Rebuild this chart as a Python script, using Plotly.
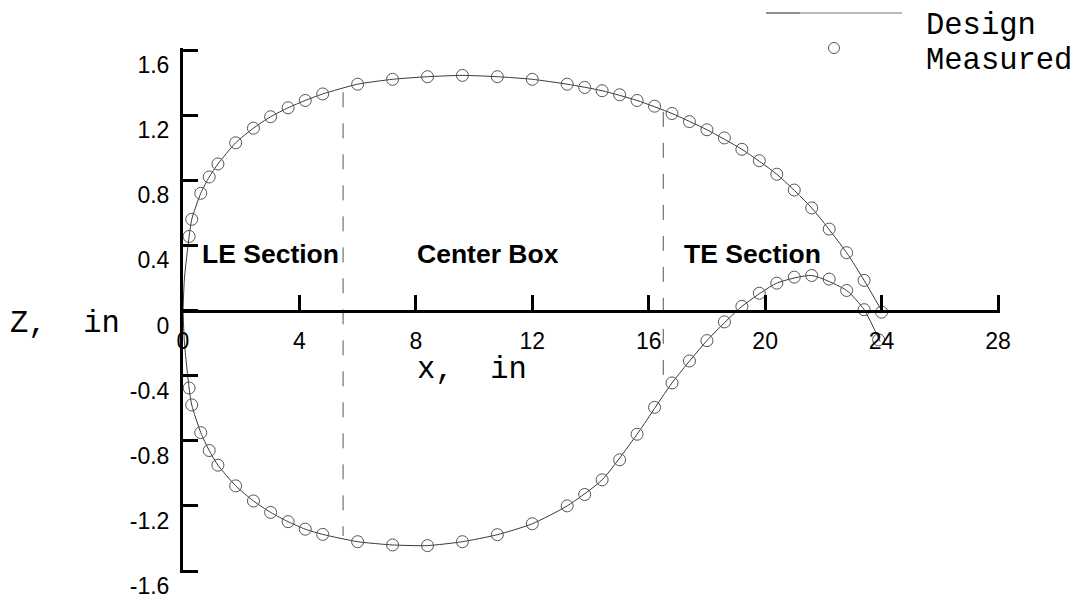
import plotly.graph_objects as go

# ---------------- data ----------------
meas_upper_x = [0.21, 0.30, 0.61, 0.90, 1.20, 1.81, 2.42, 3.01, 3.61, 4.20, 4.80, 6.00,
                7.20, 8.40, 9.60, 10.80, 12.00, 13.20, 13.80, 14.40, 15.00, 15.60, 16.20,
                16.80, 17.40, 18.00, 18.60, 19.20, 19.80, 20.40, 21.00, 21.60, 22.20, 22.80,
                23.40, 24.00]
meas_upper_z = [0.455, 0.56, 0.72, 0.82, 0.90, 1.03, 1.12, 1.19, 1.245, 1.29, 1.33, 1.39,
                1.42, 1.436, 1.444, 1.436, 1.42, 1.39, 1.37, 1.35, 1.325, 1.29, 1.255,
                1.21, 1.16, 1.11, 1.06, 0.99, 0.92, 0.837, 0.74, 0.63, 0.50, 0.355,
                0.185, -0.01]
meas_lower_x = [0.21, 0.30, 0.61, 0.90, 1.20, 1.81, 2.42, 3.01, 3.61, 4.20, 4.80, 6.00,
                7.20, 8.40, 9.60, 10.80, 12.00, 13.20, 13.80, 14.40, 15.00, 15.60, 16.20,
                16.80, 17.40, 18.00, 18.60, 19.20, 19.80, 20.40, 21.00, 21.60, 22.20, 22.80,
                23.40, 23.90]
meas_lower_z = [-0.476, -0.58, -0.75, -0.86, -0.95, -1.077, -1.17, -1.24, -1.297, -1.343,
                -1.375, -1.42, -1.44, -1.444, -1.42, -1.377, -1.31, -1.20, -1.13, -1.04,
                -0.917, -0.76, -0.595, -0.445, -0.31, -0.185, -0.07, 0.025, 0.106, 0.168,
                0.205, 0.215, 0.193, 0.123, 0.005, -0.18]

design_upper_x = [0.0, 0.05, 0.21, 0.30, 0.61, 0.90, 1.20, 1.81, 2.42, 3.01, 3.61, 4.20,
                  4.80, 6.00, 7.20, 8.40, 9.60, 10.80, 12.00, 13.20, 14.40, 15.60, 16.80,
                  18.00, 19.20, 20.40, 21.60, 22.80, 23.40, 24.00]
design_upper_z = [0.0, 0.20, 0.455, 0.56, 0.72, 0.82, 0.90, 1.03, 1.12, 1.19, 1.245, 1.29,
                  1.33, 1.39, 1.42, 1.436, 1.444, 1.436, 1.42, 1.39, 1.35, 1.29, 1.21,
                  1.11, 0.99, 0.837, 0.63, 0.355, 0.185, 0.0]
design_lower_x = [0.0, 0.05, 0.21, 0.30, 0.61, 0.90, 1.20, 1.81, 2.42, 3.01, 3.61, 4.20,
                  4.80, 6.00, 7.20, 8.40, 9.60, 10.80, 12.00, 13.20, 14.40, 15.60, 16.80,
                  18.00, 19.20, 20.40, 21.60, 22.80, 23.40, 23.95]
design_lower_z = [0.0, -0.20, -0.476, -0.58, -0.75, -0.86, -0.95, -1.077, -1.17, -1.24,
                  -1.297, -1.343, -1.375, -1.42, -1.44, -1.444, -1.42, -1.377, -1.31, -1.20,
                  -1.04, -0.76, -0.445, -0.185, 0.025, 0.168, 0.215, 0.123, 0.005, -0.19]

section_x = [5.5, 16.5]
section_top = [1.34, 1.22]
section_bottom = [-1.385, -0.49]

section_labels = ["LE Section", "Center Box", "TE Section"]
section_label_x = [2.99, 10.48, 19.58]
section_label_z = 0.35

legend_labels = ["Design", "Measured"]

x_ticks = [0, 4, 8, 12, 16, 20, 24, 28]
z_ticks = [-1.6, -1.2, -0.8, -0.4, 0, 0.4, 0.8, 1.2, 1.6]
z_tick_text = ["-1.6", "-1.2", "-0.8", "-0.4", "0", "0.4", "0.8", "1.2", "1.6"]

# ---------------- layout geometry ----------------
# page has an 8px body margin. In page pixels: x=0 at 183, 28 at 998; z=1.6 at 50, -1.6 at 571.
OFF = 8
W, H = 1081 - 2 * OFF, 600 - OFF
SX = (998 - 183) / 28.0          # px per inch (x)
SY = (571 - 50) / 3.2            # px per inch (z)
Y0 = (50 + 571) / 2.0            # page px of z = 0
PL, PR, PT, PB = 183, 1000, 48, 573   # plot area (slightly larger so end ticks are kept)
PW, PH = PR - PL, PB - PT
XR = [0.0, (PR - 183) / SX]
YR = [-(PB - Y0) / SY, (Y0 - PT) / SY]
L, T = PL - OFF, PT - OFF
R, B = W - L - PW, H - T - PH

def px(xp):
    return (xp - PL) / PW

def py(yp):
    return 1 - (yp - PT) / PH

MONO = "Liberation Mono, Courier New, monospace"
SANS = "Liberation Sans, Arial, Helvetica, sans-serif"

fig = go.Figure()

# section divider lines
for sx, st, sb in zip(section_x, section_top, section_bottom):
    fig.add_trace(go.Scatter(x=[sx, sx], y=[st, sb], mode="lines",
                             line=dict(color="#555555", width=1, dash="15px,16px"),
                             hoverinfo="skip", showlegend=False))

# design contour
for dx, dz in ((design_upper_x, design_upper_z), (design_lower_x, design_lower_z)):
    fig.add_trace(go.Scatter(x=dx, y=dz, mode="lines",
                             line=dict(color="#3a3a3a", width=1, shape="spline", smoothing=0.6),
                             name="Design", showlegend=False))

# measured points
marker = dict(symbol="circle-open", size=12, color="#555555", line=dict(width=1, color="#555555"))
for mx, mz in ((meas_upper_x, meas_upper_z), (meas_lower_x, meas_lower_z)):
    fig.add_trace(go.Scatter(x=mx, y=mz, mode="markers", marker=marker,
                             name="Measured", showlegend=False))

annotations = []
for lab, lx in zip(section_labels, section_label_x):
    annotations.append(dict(x=lx, y=section_label_z, xref="x", yref="y", text="<b>" + lab + "</b>",
                            showarrow=False, font=dict(family=SANS, size=26.5, color="black"),
                            xanchor="center", yanchor="middle"))

# axis titles
annotations.append(dict(x=px(8), y=py(324), xref="paper", yref="paper", text="Z,  in",
                        showarrow=False, font=dict(family=MONO, size=30.5, color="black"),
                        xanchor="left", yanchor="middle"))
annotations.append(dict(x=px(472), y=py(370), xref="paper", yref="paper", text="x,  in",
                        showarrow=False, font=dict(family=MONO, size=30.5, color="black"),
                        xanchor="center", yanchor="middle"))

# legend texts
for lab, ly in zip(legend_labels, [26, 61]):
    annotations.append(dict(x=px(925), y=py(ly), xref="paper", yref="paper", text=lab,
                            borderpad=0, showarrow=False,
                            font=dict(family=MONO, size=30.5, color="black"),
                            xanchor="left", yanchor="middle"))

shapes = [
    dict(type="line", xref="paper", yref="paper", x0=px(800), x1=px(902), y0=py(13), y1=py(13),
         line=dict(color="#777777", width=1)),
    dict(type="line", xref="paper", yref="paper", x0=px(766), x1=px(800), y0=py(13), y1=py(13),
         line=dict(color="#222222", width=1)),
    dict(type="circle", xref="paper", yref="paper", x0=px(828.5), x1=px(839.5),
         y0=py(42.5), y1=py(53.5), line=dict(color="#555555", width=1)),
]

fig.update_layout(
    width=W, height=H,
    margin=dict(l=L, r=R, t=T, b=B, pad=0, autoexpand=False),
    paper_bgcolor="white", plot_bgcolor="white",
    showlegend=False,
    annotations=annotations,
    shapes=shapes,
    xaxis=dict(range=XR, tickvals=x_ticks, ticktext=[str(v) for v in x_ticks],
               showgrid=False, zeroline=False, showline=True, linecolor="black", linewidth=3,
               ticks="inside", ticklen=15, tickwidth=3, tickcolor="black",
               anchor="free", position=(0 - YR[0]) / (YR[1] - YR[0]),
               tickfont=dict(family=SANS, size=23, color="black"),
               ticklabelstandoff=9, automargin=False),
    yaxis=dict(range=YR, tickvals=z_ticks, ticktext=z_tick_text,
               showgrid=False, zeroline=False, showline=True, linecolor="black", linewidth=3,
               ticks="inside", ticklen=15, tickwidth=3, tickcolor="black",
               tickfont=dict(family=SANS, size=23, color="black"),
               ticklabelshift=15, ticklabelstandoff=6, ticklabeloverflow="allow",
               automargin=False),
)

fig.write_html("out.html")
